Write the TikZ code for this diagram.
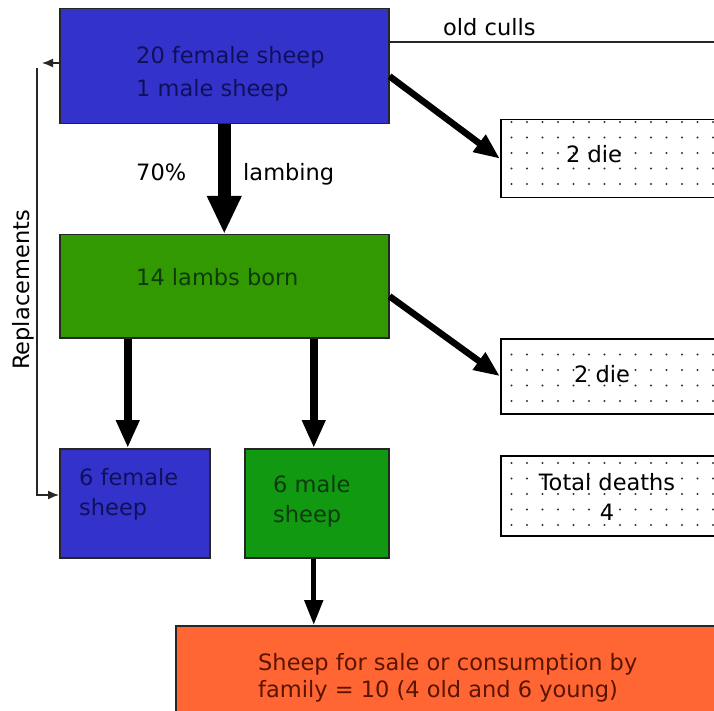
\documentclass[tikz,border=0pt]{standalone}
\usepackage{fontspec}
\setmainfont{DejaVu Sans}
\usepackage{tikz}
\usetikzlibrary{arrows.meta, positioning, calc, patterns.meta}
\definecolor{FlockBlue}{HTML}{3333CC}
\definecolor{LambGreen}{HTML}{339900}
\definecolor{RamGreen}{HTML}{119911}
\definecolor{SaleOrange}{HTML}{FF6633}
\definecolor{BlueInk}{HTML}{10105A}
\definecolor{GreenInk}{HTML}{0E3A0E}
\definecolor{OrangeInk}{HTML}{5A1400}
\tikzdeclarepattern{name=sparsedots, type=uncolored,
  bottom left={(-1.5pt,-1.5pt)}, top right={(14pt,14pt)}, tile size={(15.5pt,15.5pt)},
  code={\fill (0,0) circle (1.1pt);}}
\tikzset{
  flockbox/.style={rectangle, draw=black!85, line width=1.5pt, anchor=north west, inner sep=0pt},
  deathbox/.style={flockbox, draw=black, preaction={fill=white}, pattern=sparsedots, pattern color=black!80},
  boxtext/.style={font=\fontsize{22.5}{24}\selectfont, align=left, inner sep=0pt, anchor=base west},
  fatarrow/.style={-{Triangle[width=32pt,length=38pt]}, line width=13pt},
  droparrow/.style={-{Triangle[width=22pt,length=28pt]}, line width=8pt},
  salearrow/.style={-{Triangle[width=18pt,length=25pt]}, line width=5pt},
  diagarrow/.style={-{Triangle[width=20pt,length=26pt]}, line width=6.5pt},
  thinline/.style={line width=1.5pt, black!85},
  replarrow/.style={thinline, -{Latex[width=9pt,length=11pt]}}
}
\begin{document}
\begin{tikzpicture}[x=1pt, y=-1pt]
  \useasboundingbox (0,0) rectangle (714,711);
  \clip (0,0) rectangle (714,711);

  % flock boxes
  \node[flockbox, fill=FlockBlue, minimum width=329pt, minimum height=115pt] (ewes) at (59,8) {};
  \node[flockbox, fill=LambGreen, minimum width=329pt, minimum height=103pt] (lambs) at (59,234) {};
  \node[flockbox, fill=FlockBlue, minimum width=150pt, minimum height=109pt] (female) at (59,448) {};
  \node[flockbox, fill=RamGreen, minimum width=144pt, minimum height=109pt] (male) at (244,448) {};
  \node[flockbox, fill=SaleOrange, minimum width=600pt, minimum height=150pt] (sale) at (175,625) {};

  % losses
  \node[deathbox, minimum width=260pt, minimum height=78pt] (die1) at (500,119) {};
  \node[deathbox, minimum width=260pt, minimum height=75pt] (die2) at (500,338) {};
  \node[deathbox, minimum width=260pt, minimum height=80pt] (total) at (500,455) {};

  % texts (base = last line)
  \node[boxtext, text=BlueInk, font=\fontsize{22.5}{33}\selectfont] (ewestext) at (136,97) {20 female sheep\\1 male sheep};
  \node[boxtext, text=GreenInk] (lambstext) at (136,285) {14 lambs born};
  \node[boxtext, text=BlueInk, font=\fontsize{22.5}{30}\selectfont] (femaletext) at (79,515) {6 female\\sheep};
  \node[boxtext, text=GreenInk, font=\fontsize{22.5}{30}\selectfont] (maletext) at (273,522) {6 male\\sheep};
  \node[boxtext, text=OrangeInk, font=\fontsize{22.5}{27}\selectfont] (saletext) at (258,697) {Sheep for sale or consumption by\\family = 10 (4 old and 6 young)};
  \node[boxtext, anchor=base] (die1text) at (594,163) {2 die};
  \node[boxtext, anchor=base] (die2text) at (602,382) {2 die};
  \node[boxtext, anchor=base, align=center, font=\fontsize{22.5}{30}\selectfont] (totaltext) at (607,520) {Total deaths\\4};
  \node[boxtext] (rate) at (136,181) {70\%};
  \node[boxtext] (lambing) at (243,181) {lambing};
  \node[boxtext] (culls) at (443,36) {old culls};
  \node[boxtext, anchor=center, rotate=90] (repl) at (23,290) {Replacements};

  % flows
  \coordinate (fin) at ([xshift=-7pt]female.north);
  \coordinate (min) at ([xshift=-3pt]male.north);
  \draw[fatarrow] (ewes.south) -- (lambs.north);
  \draw[droparrow] (lambs.south -| fin) -- (fin);
  \draw[droparrow] (lambs.south -| min) -- (min);
  \draw[salearrow] (male.south -| min) -- (sale.north -| min);
  \draw[diagarrow] ([yshift=-10pt]ewes.east) -- (die1.west);
  \draw[diagarrow] ([yshift=-10pt]lambs.east) -- (die2.west);

  \coordinate (cullend) at (730,42);
  \draw[thinline] (ewes.east |- cullend) -- (cullend);

  \coordinate (rbot) at (37,495);
  \coordinate (rtop) at (37,68);
  \coordinate (rleft) at (42,63);
  \draw[replarrow, {Latex[width=9pt,length=11pt]}-] (female.west |- rbot) -- (rbot) -- (rtop);
  \draw[replarrow] (ewes.west |- rleft) -- (rleft);
\end{tikzpicture}
\end{document}
